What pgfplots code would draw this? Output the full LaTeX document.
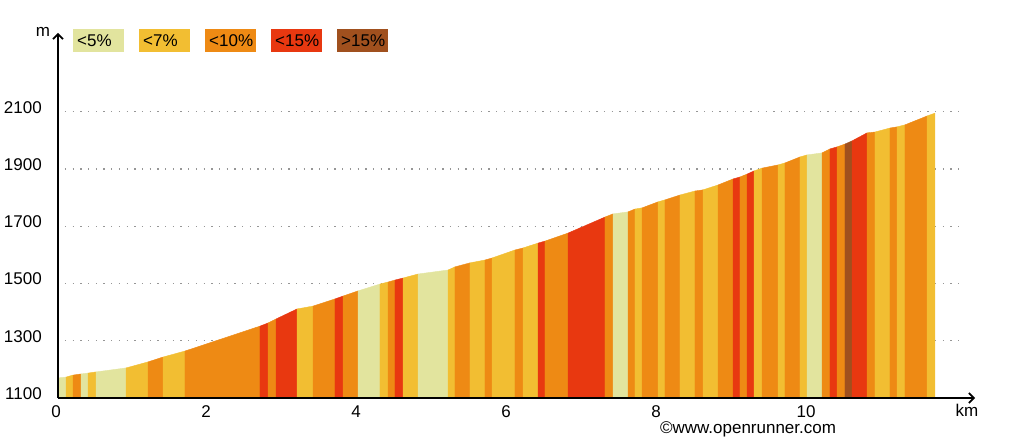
\documentclass[border=0pt]{standalone}
\usepackage{fontspec}
\setmainfont{Liberation Sans}
\usepackage{pgfplots}
\usepackage{pgfplotstable}
\pgfplotsset{compat=1.18}
\usetikzlibrary{arrows.meta}

\definecolor{g5}{RGB}{226,228,158}
\definecolor{g7}{RGB}{242,190,50}
\definecolor{g10}{RGB}{238,138,20}
\definecolor{g15}{RGB}{232,56,16}
\definecolor{g20}{RGB}{160,80,30}
\definecolor{gridc}{RGB}{150,150,150}
\newcommand\lbl{\fontsize{17bp}{20bp}\selectfont}

% profile: distance (km), elevation (m), grade class of the segment that starts here
% 1: <5%, 2: <7%, 3: <10%, 4: <15%, 5: >15%
\pgfplotstableread{
x y c
0.000 1170 1
0.107 1173 2
0.200 1180 3
0.307 1184 1
0.400 1187 2
0.507 1191 1
0.907 1205 2
1.200 1226 3
1.400 1243 2
1.693 1264 3
2.693 1351 4
2.800 1362 3
2.907 1376 4
3.187 1411 2
3.400 1421 3
3.693 1446 4
3.800 1456 3
4.000 1474 1
4.293 1498 2
4.400 1505 3
4.493 1512 4
4.600 1519 2
4.800 1533 1
5.200 1547 2
5.293 1558 3
5.493 1572 2
5.693 1582 3
5.787 1589 2
6.093 1617 3
6.200 1624 2
6.400 1641 4
6.493 1648 3
6.800 1676 4
7.293 1732 3
7.400 1743 1
7.600 1750 3
7.693 1760 2
7.787 1764 3
8.000 1785 2
8.093 1792 3
8.293 1809 2
8.493 1823 3
8.600 1827 2
8.800 1844 3
9.000 1865 4
9.093 1872 3
9.187 1882 4
9.280 1893 2
9.387 1903 3
9.600 1914 2
9.693 1921 3
9.893 1942 2
9.987 1949 1
10.187 1956 3
10.293 1970 4
10.387 1977 3
10.493 1987 5
10.587 1998 4
10.787 2026 3
10.893 2029 2
11.093 2043 3
11.187 2047 2
11.293 2054 3
11.587 2085 2
11.693 2095 2
}\profile

\pgfplotstablegetrowsof{\profile}
\pgfmathtruncatemacro\nseg{\pgfplotsretval-2}

\begin{document}
\begin{tikzpicture}
\useasboundingbox (0bp,0bp) rectangle (1024bp,439bp);
\begin{axis}[
  at={(58bp,41bp)}, anchor=south west, scale only axis,
  width=917bp, height=365bp,
  xmin=0, xmax=12.2267, ymin=1100, ymax=2374.9,
  axis lines=left, axis on top,
  axis line style={line width=1.6bp, -{Straight Barb[length=5bp,width=10bp]}},
  xtick={0,2,...,10}, ytick={1100,1300,...,2100},
  major tick length=0pt,
  tick label style={font=\lbl},
  /pgf/number format/assume math mode=true,
  /pgf/number format/1000 sep={},
  xticklabel style={inner sep=0pt, anchor=north, yshift=-7.5bp, xshift=-2bp},
  yticklabel style={inner sep=0pt, anchor=east, xshift=-16bp, yshift=4.5bp},
  seg1/.style={fill=g5, draw=g5, line width=0.4bp},
  seg2/.style={fill=g7, draw=g7, line width=0.4bp},
  seg3/.style={fill=g10, draw=g10, line width=0.4bp},
  seg4/.style={fill=g15, draw=g15, line width=0.4bp},
  seg5/.style={fill=g20, draw=g20, line width=0.4bp},
]
\pgfplotsinvokeforeach{1300,1500,1700,1900,2100}{%
  \draw[gridc, line width=1.3bp, dash pattern=on 1.3bp off 6.4bp]
    (axis cs:0.093,#1) -- (axis cs:12.03,#1);
}
\pgfplotsforeachungrouped \i in {0,...,\nseg}{%
  \pgfmathtruncatemacro\j{\i+1}%
  \pgfplotstablegetelem{\i}{x}\of\profile \let\xa\pgfplotsretval
  \pgfplotstablegetelem{\i}{y}\of\profile \let\ya\pgfplotsretval
  \pgfplotstablegetelem{\i}{c}\of\profile \let\ca\pgfplotsretval
  \pgfplotstablegetelem{\j}{x}\of\profile \let\xb\pgfplotsretval
  \pgfplotstablegetelem{\j}{y}\of\profile \let\yb\pgfplotsretval
  \edef\doplot{\noexpand\addplot[seg\ca] coordinates {(\xa,1100) (\xa,\ya) (\xb,\yb) (\xb,1100)};}%
  \doplot
}
\end{axis}
% legend
\foreach \c/\t/\xx in {g5/{<5\%}/73, g7/{<7\%}/139, g10/{<10\%}/205, g15/{<15\%}/271, g20/{>15\%}/337}{
  \node[fill=\c, anchor=west, inner xsep=4bp, inner ysep=0pt, text width=43bp,
        minimum height=23bp, align=left, font=\lbl] at (\xx bp,398.5bp) {\t};
}
\node[font=\lbl] at (43bp,407bp) {m};
\node[font=\lbl] at (967bp,29bp) {km};
\node[font=\lbl, inner sep=0pt, anchor=base] at (748bp,6bp) {©www.openrunner.com};
\end{tikzpicture}
\end{document}
